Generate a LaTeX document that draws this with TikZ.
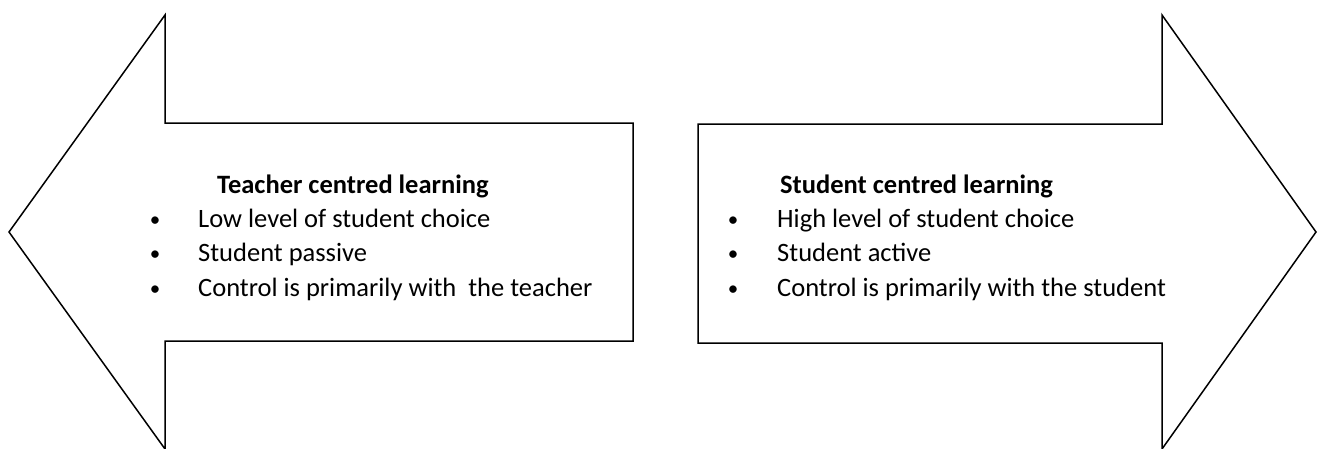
\documentclass[tikz,border=0pt]{standalone}
\usepackage{fontspec}
\setmainfont{Carlito}
\tikzset{
  arrowshape/.style={draw=black, line width=1.5pt, line join=miter, fill=white},
  txt/.style={anchor=base west, inner sep=0pt, font=\fontsize{26.5}{30}\selectfont},
  ttl/.style={txt, font=\fontsize{26.5}{30}\selectfont\bfseries},
  bul/.style={anchor=base, inner sep=0pt, font=\fontsize{21}{24}\selectfont}
}
\begin{document}
\begin{tikzpicture}[x=1pt,y=-1pt]
\useasboundingbox (0,0) rectangle (1317,448);
% left arrow
\draw[arrowshape] (9,232) -- (165,15) -- (165,123) -- (633,123) -- (633,341) -- (165,341) -- (165,449) -- cycle;
% right arrow
\draw[arrowshape] (1316,232) -- (1162,15) -- (1162,124) -- (698,124) -- (698,343) -- (1162,343) -- (1162,449) -- cycle;
% left text
\node[ttl] (lt) at (217,193) {Teacher centred learning};
\node[bul] (lb1) at (155,226) {•};
\node[bul] (lb2) at (155,260) {•};
\node[bul] (lb3) at (155,295) {•};
\node[txt] (li1) at (198,227) {Low level of student choice};
\node[txt] (li2) at (198,261) {Student passive};
\node[txt] (li3) at (198,296) {Control is primarily with\ \ the teacher};
% right text
\node[ttl] (rt) at (780,193) {Student centred learning};
\node[bul] (rb1) at (733,226) {•};
\node[bul] (rb2) at (733,260) {•};
\node[bul] (rb3) at (733,295) {•};
\node[txt] (ri1) at (777,227) {High level of student choice};
\node[txt] (ri2) at (777,261) {Student active};
\node[txt] (ri3) at (777,296) {Control is primarily with the student};
\end{tikzpicture}
\end{document}
